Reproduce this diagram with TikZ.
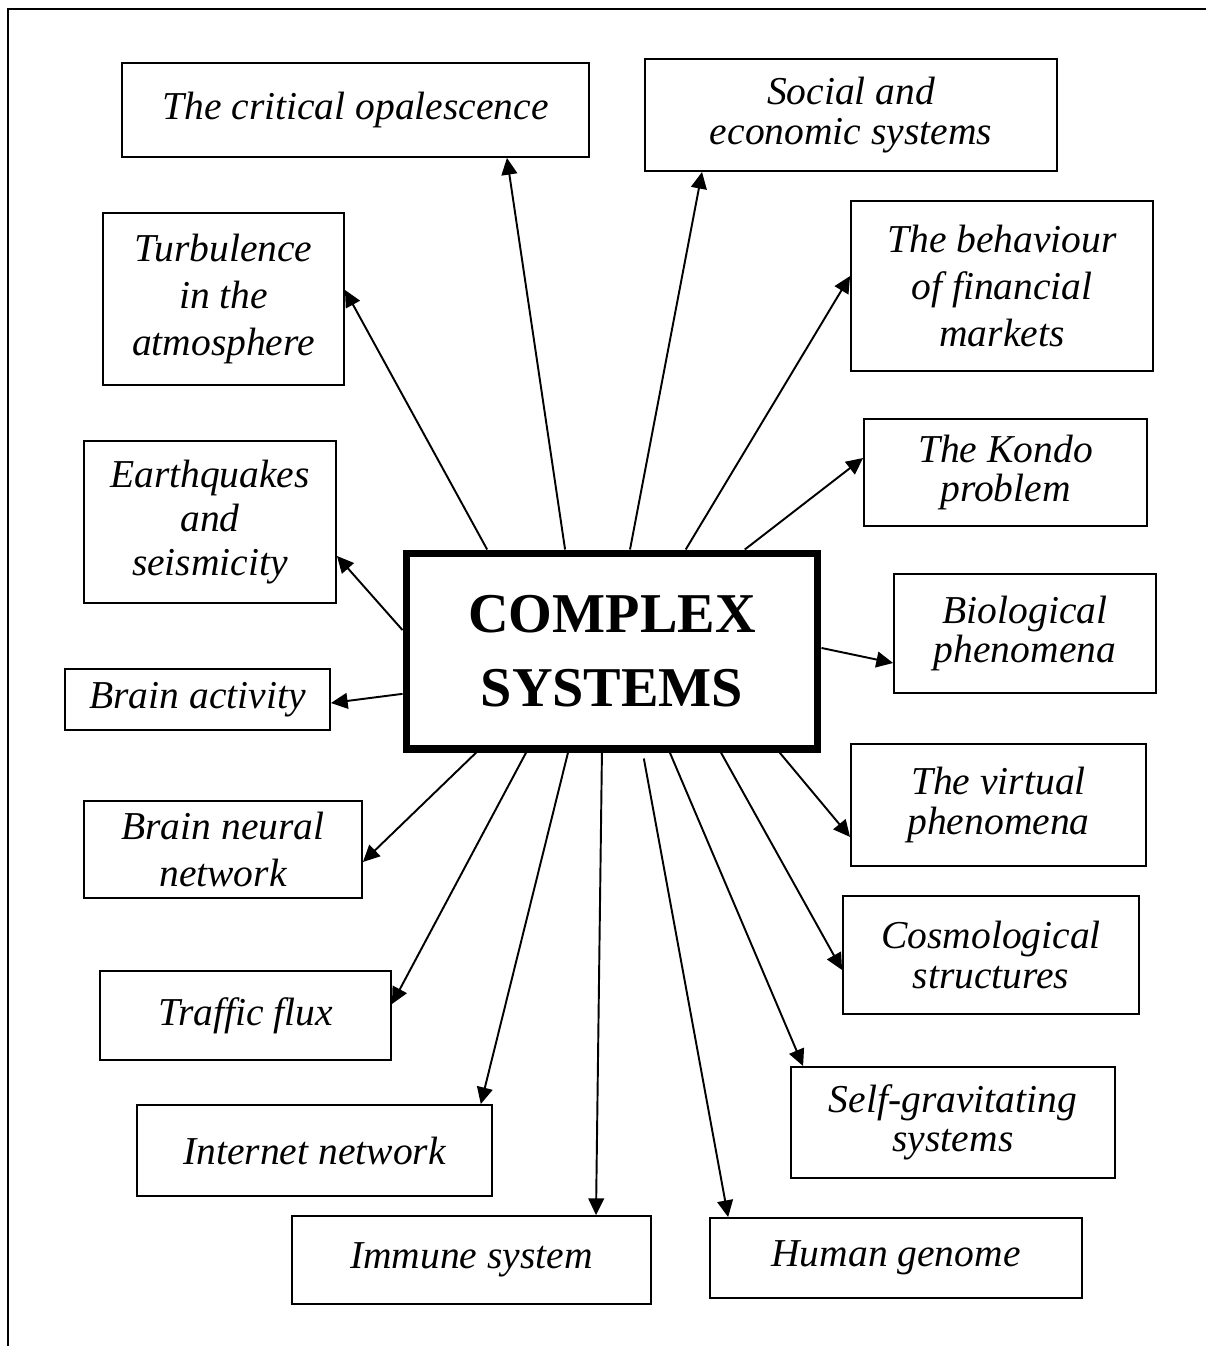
\documentclass[tikz,border=0pt]{standalone}
\usepackage{fontspec}
\setmainfont{Liberation Serif}
\usetikzlibrary{arrows.meta,calc}

\tikzset{
  topic/.style={draw, line width=1.1pt, align=center, inner sep=2pt,
    font=\itshape\fontsize{22.5}{#1}\selectfont},
  topic/.default=22.5,
  hub/.style={draw, line width=4pt, align=center,
    font=\bfseries\fontsize{32}{42.5}\selectfont},
  link/.style={-{Triangle[length=9.5pt,width=9pt]}, line width=1.1pt}
}

\begin{document}
\begin{tikzpicture}[x=0.02cm, y=-0.02cm]
    \useasboundingbox (0,0) rectangle (1206,1346);
    % frame (only top and left show)
    \draw[line width=1.1pt] (8,1346) -- (8,9) -- (1206,9);
    %
    \node[hub, minimum width=8.24cm, minimum height=3.92cm] (cs) at (612,651) {COMPLEX\\SYSTEMS};
    %
    \node[topic, minimum width=9.34cm, minimum height=1.88cm] (opal) at (355.5,110) {The critical opalescence};
    \node[topic, minimum width=8.24cm, minimum height=2.24cm] (social) at (851,115) {Social and\\economic systems};
    \node[topic=26.6, minimum width=4.82cm, minimum height=3.44cm] (turb) at (223.5,299) {Turbulence\\in the\\atmosphere};
    \node[topic=26.6, minimum width=6.04cm, minimum height=3.40cm] (markets) at (1002,286) {The behaviour\\of financial\\markets};
    \node[topic, minimum width=5.66cm, minimum height=2.14cm] (kondo) at (1005.5,472.5) {The Kondo\\problem};
    \node[topic=25, minimum width=5.04cm, minimum height=3.24cm] (quakes) at (210,522) {Earthquakes\\and\\seismicity};
    \node[topic, minimum width=5.24cm, minimum height=2.38cm] (bio) at (1025,633.5) {Biological\\phenomena};
    \node[topic, minimum width=5.30cm, minimum height=1.22cm] (brain) at (197.5,699.5) {Brain activity};
    \node[topic, minimum width=5.90cm, minimum height=2.44cm] (virtual) at (998.5,805) {The virtual\\phenomena};
    \node[topic=26.6, minimum width=5.56cm, minimum height=1.94cm] (neural) at (223,849.5) {Brain neural\\network};
    \node[topic, minimum width=5.92cm, minimum height=2.36cm] (cosmo) at (991,955) {Cosmological\\structures};
    \node[topic, minimum width=5.82cm, minimum height=1.78cm] (traffic) at (245.5,1015.5) {Traffic flux};
    \node[topic, minimum width=6.48cm, minimum height=2.22cm] (selfgrav) at (953,1122.5) {Self-gravitating\\systems};
    \node[topic, minimum width=7.10cm, minimum height=1.82cm] (internet) at (314.5,1150.5) {Internet network};
    \node[topic, minimum width=7.18cm, minimum height=1.76cm] (immune) at (471.5,1260) {Immune system};
    \node[topic, minimum width=7.44cm, minimum height=1.60cm] (genome) at (896,1258) {Human genome};
    %
    % arrows from the top edge
    \draw[link] ($(cs.north west)!0.202!(cs.north east)$) -- ($(turb.north east)!0.448!(turb.south east)$);
    \draw[link] ($(cs.north west)!0.388!(cs.north east)$) -- ($(opal.south west)!0.823!(opal.south east)$);
    \draw[link] ($(cs.north west)!0.543!(cs.north east)$) -- ($(social.south west)!0.140!(social.south east)$);
    \draw[link] ($(cs.north west)!0.676!(cs.north east)$) -- ($(markets.north west)!0.442!(markets.south west)$);
    \draw[link] ($(cs.north west)!0.817!(cs.north east)$) -- ($(kondo.north west)!0.367!(kondo.south west)$);
    % sides
    \draw[link] ($(cs.north west)!0.397!(cs.south west)$) -- ($(quakes.north east)!0.707!(quakes.south east)$);
    \draw[link] ($(cs.north west)!0.711!(cs.south west)$) -- ($(brain.north east)!0.556!(brain.south east)$);
    \draw[link] ($(cs.north east)!0.485!(cs.south east)$) -- ($(bio.north west)!0.744!(bio.south west)$);
    % bottom edge
    \draw[link] ($(cs.south west)!0.176!(cs.south east)$) -- ($(neural.north east)!0.626!(neural.south east)$);
    \draw[link] ($(cs.south west)!0.295!(cs.south east)$) -- ($(traffic.north east)!0.374!(traffic.south east)$);
    \draw[link] ($(cs.south west)!0.395!(cs.south east)$) -- ($(internet.north west)!0.966!(internet.north east)$);
    \draw[link] ($(cs.south west)!0.476!(cs.south east)$) -- ($(immune.north west)!0.845!(immune.north east)$);
    \draw[link] ($(cs.south west)!0.576!(cs.south east)+(0,6)$) -- ($(genome.north west)!0.051!(genome.north east)$);
    \draw[link] ($(cs.south west)!0.638!(cs.south east)$) -- ($(selfgrav.north west)!0.040!(selfgrav.north east)$);
    \draw[link] ($(cs.south west)!0.760!(cs.south east)$) -- ($(cosmo.north west)!0.625!(cosmo.south west)$);
    \draw[link] ($(cs.south west)!0.900!(cs.south east)$) -- ($(virtual.north west)!0.758!(virtual.south west)$);
\end{tikzpicture}
\end{document}
